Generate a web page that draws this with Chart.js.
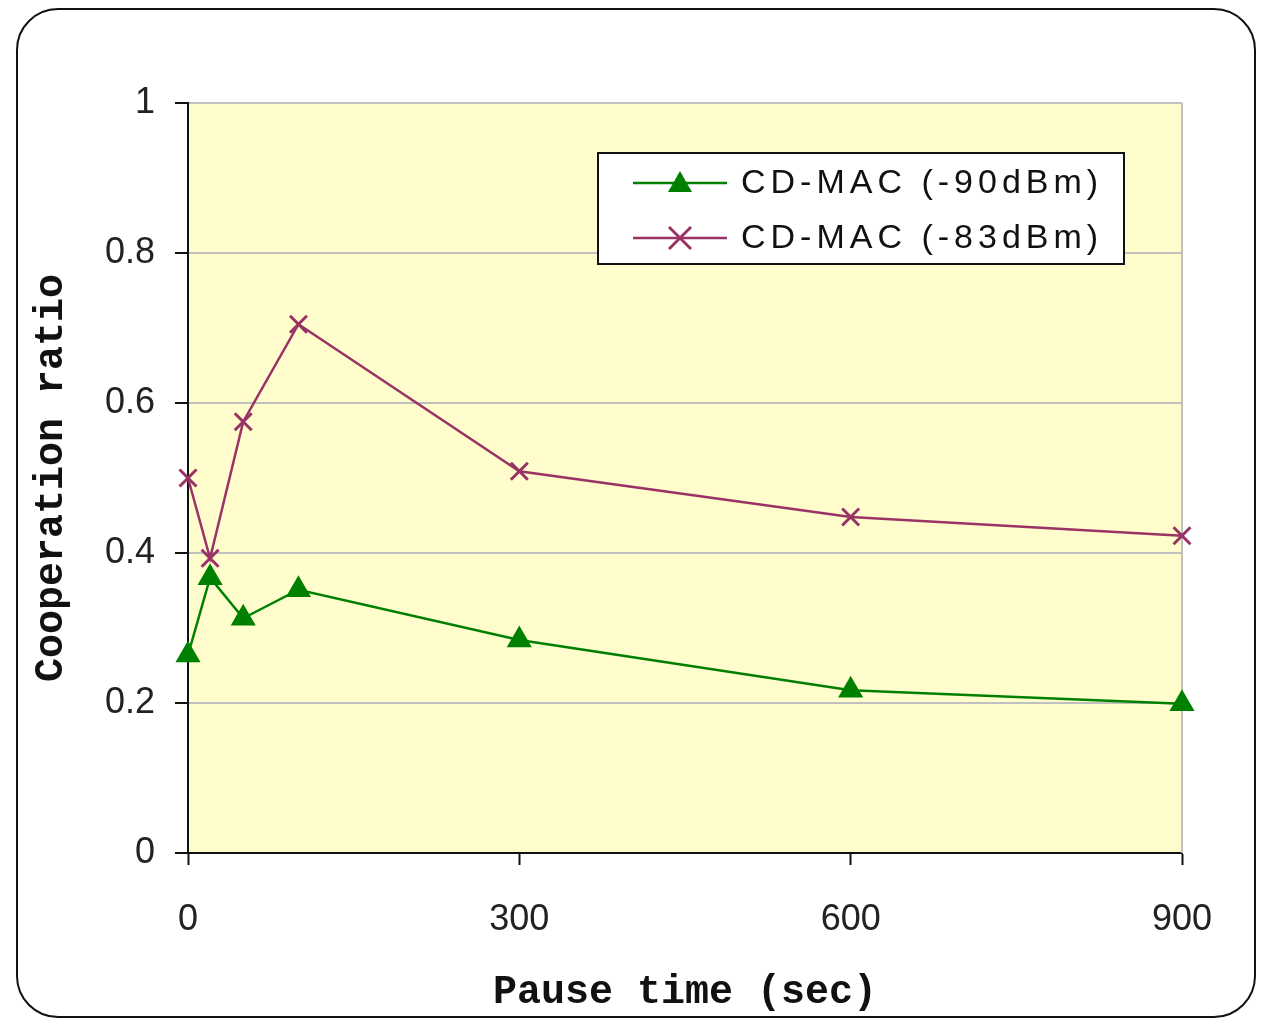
<!DOCTYPE html>
<html>
<head>
<meta charset="utf-8">
<script src="https://cdn.jsdelivr.net/npm/chart.js@4.4.1/dist/chart.umd.min.js"></script>
<style>
  html, body { margin: 0; padding: 0; background: #fff; }
  #wrap { position: relative; width: 1274px; height: 1027px; }
  #frame { position: absolute; left: 16px; top: 8px; width: 1240px; height: 1010px;
           border: 2px solid #111; border-radius: 42px; box-sizing: border-box; pointer-events: none; }
  canvas { position: absolute; left: 0; top: 0; }
</style>
</head>
<body>
<div id="wrap">
  <canvas id="grafica" width="1274" height="1027"></canvas>
  <div id="frame"></div>
</div>
<script>
// Datos
const pauseTimes = [0, 20, 50, 100, 300, 600, 900];
const ratio90 = [0.264, 0.367, 0.313, 0.351, 0.284, 0.217, 0.199];
const ratio83 = [0.500, 0.393, 0.575, 0.705, 0.509, 0.448, 0.423];
const seriesLabels = ['CD-MAC (-90dBm)', 'CD-MAC (-83dBm)'];
const xTicks = [0, 300, 600, 900];
const yTicks = [0, 0.2, 0.4, 0.6, 0.8, 1];

const toPoints = (ys) => pauseTimes.map((x, i) => ({ x: x, y: ys[i] }));

// Fondo amarillo del área de trazado y borde derecho
const fondo = {
  id: 'fondo',
  beforeDraw(chart) {
    const { ctx, chartArea: a } = chart;
    ctx.save();
    ctx.fillStyle = '#FFFDCC';
    ctx.fillRect(a.left, a.top, a.right - a.left, a.bottom - a.top);
    ctx.restore();
  },
  beforeDatasetsDraw(chart) {
    const { ctx, chartArea: a } = chart;
    ctx.save();
    ctx.strokeStyle = '#c0c0c0';
    ctx.lineWidth = 2;
    ctx.beginPath();
    ctx.moveTo(a.right, a.top);
    ctx.lineTo(a.right, a.bottom);
    ctx.stroke();
    ctx.restore();
  }
};

// Leyenda con recuadro dentro del área
const leyenda = {
  id: 'leyenda',
  afterDraw(chart) {
    const { ctx } = chart;
    const bx = 598, by = 153, bw = 526, bh = 111;
    ctx.save();
    ctx.fillStyle = '#fff';
    ctx.fillRect(bx, by, bw, bh);
    ctx.strokeStyle = '#111';
    ctx.lineWidth = 2;
    ctx.strokeRect(bx, by, bw, bh);
    chart.data.datasets.forEach((ds, i) => {
      const y = 183 + i * 55;
      ctx.strokeStyle = ds.borderColor;
      ctx.lineWidth = 2.5;
      ctx.beginPath();
      ctx.moveTo(633, y);
      ctx.lineTo(727, y);
      ctx.stroke();
      ctx.fillStyle = ds.borderColor;
      if (ds.pointStyle === 'triangle') {
        ctx.beginPath();
        ctx.moveTo(680, y - 12);
        ctx.lineTo(692, y + 9);
        ctx.lineTo(668, y + 9);
        ctx.closePath();
        ctx.fill();
      } else {
        ctx.lineWidth = 3;
        ctx.beginPath();
        ctx.moveTo(669, y - 11); ctx.lineTo(691, y + 11);
        ctx.moveTo(691, y - 11); ctx.lineTo(669, y + 11);
        ctx.stroke();
      }
      ctx.fillStyle = '#111';
      ctx.font = '34px "Liberation Sans"';
      ctx.letterSpacing = '5px';
      ctx.textBaseline = 'middle';
      ctx.fillText(ds.label, 741, y + 1);
    });
    ctx.restore();
  }
};

const ctx = document.getElementById('grafica').getContext('2d');
new Chart(ctx, {
  type: 'line',
  data: {
    datasets: [
      {
        label: seriesLabels[0],
        data: toPoints(ratio90),
        borderColor: '#008000',
        backgroundColor: '#008000',
        borderWidth: 2.5,
        pointStyle: 'triangle',
        pointRadius: 12,
        pointHoverRadius: 12,
        clip: false
      },
      {
        label: seriesLabels[1],
        data: toPoints(ratio83),
        borderColor: '#993366',
        backgroundColor: '#993366',
        borderWidth: 2.5,
        pointStyle: 'crossRot',
        pointRadius: 12,
        pointHoverRadius: 12,
        pointBorderWidth: 3,
        clip: false
      }
    ]
  },
  options: {
    responsive: false,
    animation: false,
    layout: { padding: { left: 20, top: 103, right: 92, bottom: 10 } },
    plugins: { legend: { display: false }, tooltip: { enabled: false } },
    scales: {
      x: {
        type: 'linear',
        min: 0,
        max: 900,
        afterBuildTicks: (s) => { s.ticks = xTicks.map(v => ({ value: v })); },
        afterFit: (s) => { s.height = 1027 - 853 - 10; },
        ticks: { color: '#222', padding: 33, font: { family: 'Liberation Sans', size: 36 } },
        grid: { drawOnChartArea: false, drawTicks: true, tickLength: 12, tickColor: '#111', tickWidth: 2 },
        border: { color: '#111', width: 2 },
        title: {
          display: true,
          text: 'Pause time (sec)',
          color: '#111',
          padding: 0,
          font: { family: 'Liberation Mono', size: 40, weight: 'bold' }
        }
      },
      y: {
        min: 0,
        max: 1,
        afterBuildTicks: (s) => { s.ticks = yTicks.map(v => ({ value: v })); },
        afterFit: (s) => { s.width = 168; },
        ticks: {
          color: '#222',
          padding: 20,
          font: { family: 'Liberation Sans', size: 36 },
          callback: (v) => String(Math.round(v * 10) / 10)
        },
        grid: { color: '#c0c0c0', lineWidth: 2, tickLength: 13, tickColor: '#111', tickWidth: 2 },
        border: { color: '#111', width: 2 },
        title: {
          display: true,
          text: 'Cooperation ratio',
          color: '#111',
          padding: { top: 8, bottom: 0 },
          font: { family: 'Liberation Mono', size: 40, weight: 'bold' }
        }
      }
    }
  },
  plugins: [fondo, leyenda]
});
</script>
</body>
</html>
